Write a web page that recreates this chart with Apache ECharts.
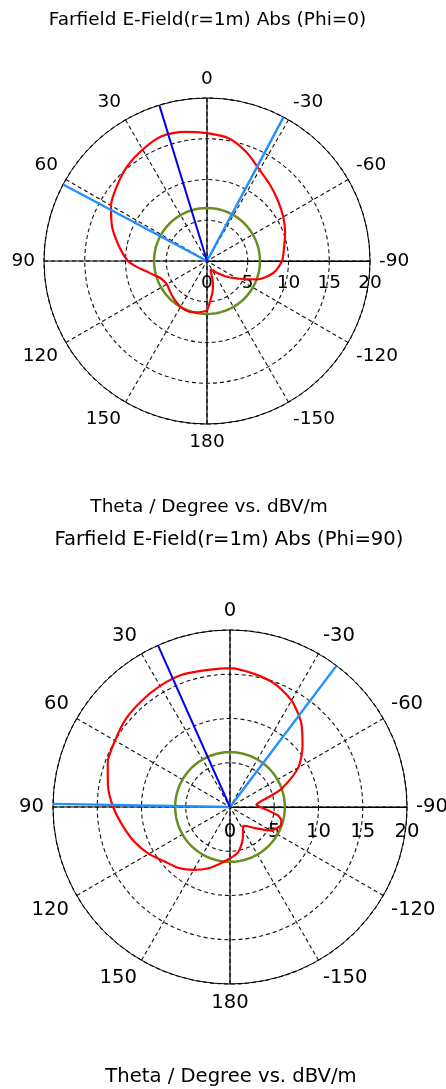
<!DOCTYPE html>
<html><head><meta charset="utf-8">
<script src="https://cdn.jsdelivr.net/npm/echarts@6/dist/echarts.min.js"></script>
<style>html,body{margin:0;padding:0;background:#fff;}#c{width:446px;height:1089px;}</style>
</head><body><div id="c"></div>
<script>
// ---- data ----
const titles = ['Farfield E-Field(r=1m) Abs (Phi=0)', 'Farfield E-Field(r=1m) Abs (Phi=90)'];
const axisCaption = 'Theta / Degree vs. dBV/m';
const thetaPhi0 = [-180,-170,-165,-160,-155,-150,-140,-130,-120,-110,-100,-90,-80,-70,-60,-50,-40,-30,-20,-10,0,10,20,30,40,50,60,70,80,90,95,100,105,110,120,130,140,150,160,170,180];
const absPhi0   = [6.1,3.9,2.8,1.4,1.1,1.3,1.9,2.9,4.3,6.6,8.3,9.2,9.6,10.2,10.8,11.4,12.1,12.9,14.2,15.3,15.7,16.1,16.3,15.8,15.2,14.4,13.6,12.4,11.0,9.7,8.6,7.5,6.7,6.1,5.7,5.9,6.2,6.5,6.6,6.4,6.1];
const thetaPhi90 = [-180,-170,-160,-150,-145,-140,-130,-120,-110,-105,-100,-95,-90,-85,-80,-75,-70,-60,-50,-40,-30,-20,-10,0,10,20,30,40,50,60,70,80,90,100,110,120,130,140,150,160,170,180];
const absPhi90   = [5.8,5.2,4.1,2.95,2.6,2.8,3.7,5.3,6.1,6.0,5.5,4.3,3.4,3.0,3.5,4.7,6.3,8.9,10.7,12.5,13.9,14.8,15.3,15.7,15.7,15.9,15.8,15.6,15.4,15.0,14.7,14.0,13.2,12.3,11.5,10.6,9.6,9.0,8.2,7.4,6.5,5.8];
const mainLobe = [17, 24];
const beamEdges = [[62, -28], [89, -37]];
const sideLobeLevel = [6.5, 6.2];
const radiusTicks = [0, 5, 10, 15, 20];
const angleTickStep = 30;

// ---- layout (styles) ----
const layouts = [
  {cx: 207, cy: 261, r: 163, font: 18.5, aMargin: 9, rMargin: -13, titleY: 20, capY: 507, titleX: 207.5, capX: 209},
  {cx: 230, cy: 807, r: 177, font: 19.6, aMargin: 9, rMargin: -15, titleY: 540, capY: 1077, titleX: 229, capX: 231}
];
const FONT = 'DejaVu Sans';
const wrap = t => (t < -90 ? t + 360 : t);
const angleFmt = v => (v > 180 ? String(v - 360) : String(v));

const polar = [], angleAxis = [], radiusAxis = [], series = [], graphic = [];
const curves = [[thetaPhi0, absPhi0], [thetaPhi90, absPhi90]];
const rMin = radiusTicks[0], rMax = radiusTicks[radiusTicks.length - 1], rStep = radiusTicks[1] - radiusTicks[0];

layouts.forEach((L, i) => {
  const p = i * 2;
  polar.push({center: [L.cx, L.cy], radius: L.r});
  polar.push({center: [L.cx, L.cy], radius: L.r});
  angleAxis.push({
    polarIndex: p, type: 'value', min: -90, max: 270, interval: angleTickStep,
    startAngle: 0, clockwise: false,
    axisLine: {show: true, lineStyle: {color: '#000', width: 1}},
    axisTick: {show: false},
    axisLabel: {show: true, margin: L.aMargin, color: '#000', fontFamily: FONT, fontSize: L.font, formatter: angleFmt},
    splitLine: {show: true, lineStyle: {color: '#111', width: 1.1, type: [4, 3]}}
  });
  angleAxis.push({
    polarIndex: p + 1, type: 'value', min: -90, max: 270, interval: 90,
    startAngle: 0, clockwise: false,
    axisLine: {show: false}, axisTick: {show: false}, axisLabel: {show: false},
    splitLine: {show: true, lineStyle: {color: '#000', width: 1.2, type: 'solid'}}
  });
  radiusAxis.push({
    polarIndex: p, type: 'value', min: rMin, max: rMax, interval: rStep,
    axisLine: {show: true, lineStyle: {color: '#000', width: 1}},
    axisTick: {show: false},
    axisLabel: {show: true, margin: L.rMargin, color: '#000', fontFamily: FONT, fontSize: L.font, verticalAlign: 'top'},
    splitLine: {show: true, lineStyle: {color: '#111', width: 1.1, type: [4, 3]}}
  });
  radiusAxis.push({
    polarIndex: p + 1, type: 'value', min: rMin, max: rMax, interval: rStep,
    axisLine: {show: false}, axisTick: {show: false}, axisLabel: {show: false}, splitLine: {show: false}
  });

  // side lobe level circle
  const lvl = [];
  for (let t = -180; t <= 180; t += 5) lvl.push([sideLobeLevel[i], wrap(t)]);
  series.push({type: 'line', coordinateSystem: 'polar', polarIndex: p, data: lvl, symbol: 'none', silent: true,
    lineStyle: {color: '#6b8e23', width: 2.5}, z: 3, clip: false});
  // main curve
  const [th, ab] = curves[i];
  series.push({type: 'line', coordinateSystem: 'polar', polarIndex: p,
    data: th.map((t, k) => [ab[k], wrap(t)]), symbol: 'none', smooth: 0.25, silent: true,
    lineStyle: {color: '#ff0000', width: 2.2}, z: 4, clip: false});
  // beam width edges
  beamEdges[i].forEach(a => {
    series.push({type: 'line', coordinateSystem: 'polar', polarIndex: p,
      data: [[rMin, wrap(a)], [rMax, wrap(a)]], symbol: 'none', silent: true,
      lineStyle: {color: '#1e90ff', width: 2.4}, z: 5, clip: false});
  });
  // main lobe direction
  series.push({type: 'line', coordinateSystem: 'polar', polarIndex: p,
    data: [[rMin, wrap(mainLobe[i])], [rMax, wrap(mainLobe[i])]], symbol: 'none', silent: true,
    lineStyle: {color: '#0000ee', width: 2}, z: 6, clip: false});

  graphic.push({type: 'text', x: L.titleX, y: L.titleY, style: {text: titles[i], font: L.font + 'px "' + FONT + '"', fill: '#000', align: 'center', verticalAlign: 'middle'}});
  graphic.push({type: 'text', x: L.capX, y: L.capY, style: {text: axisCaption, font: L.font + 'px "' + FONT + '"', fill: '#000', align: 'center', verticalAlign: 'middle'}});
});

const chart = echarts.init(document.getElementById('c'), null, {renderer: 'canvas'});
chart.setOption({animation: false, backgroundColor: '#fff', polar, angleAxis, radiusAxis, series, graphic});
</script></body></html>
